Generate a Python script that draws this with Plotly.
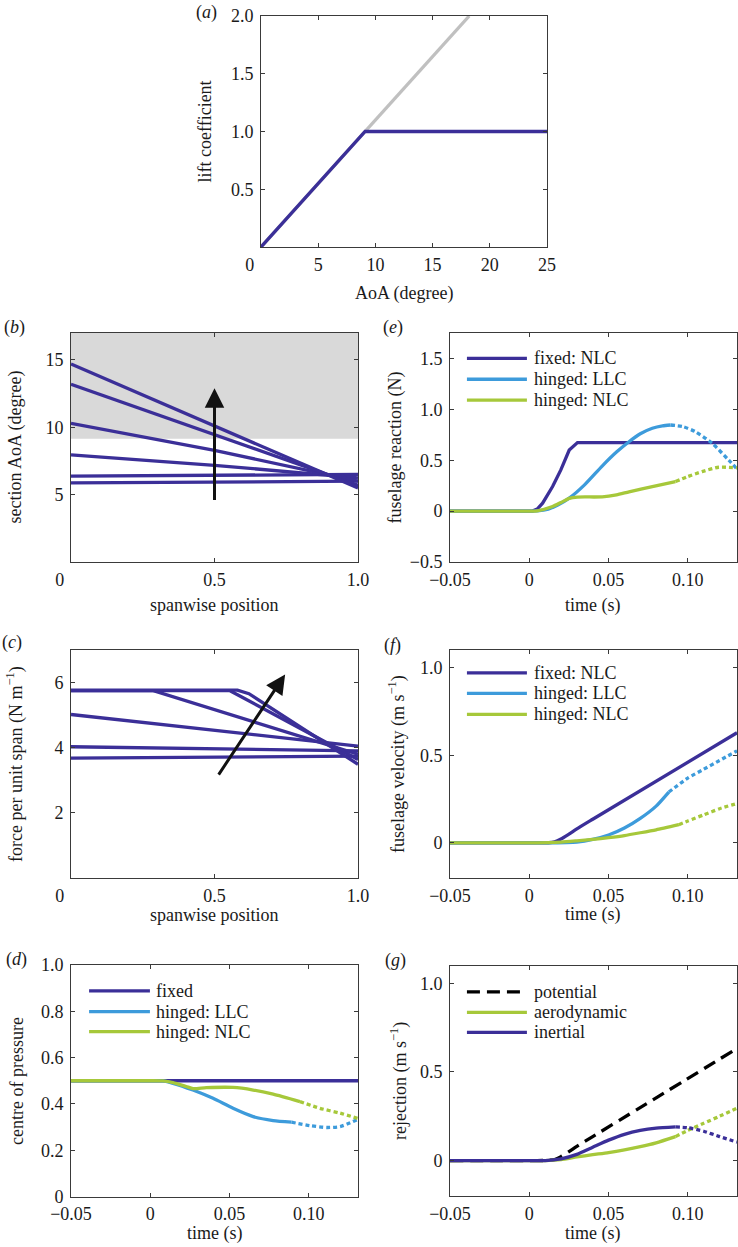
import plotly.graph_objects as go

# ---------------- data ----------------
# (a) lift curve
aoa_nlc = [0, 9.1, 25]
cl_nlc = [0, 1.0, 1.0]
aoa_lin = [0, 18.2]
cl_lin = [0, 2.0]

# (b) section AoA along span
span_pos = [0, 0.5, 1.0]
section_aoa = [
    [5.87, 5.92, 6.0],
    [6.38, 6.42, 6.5],
    [7.95, 7.18, 6.25],
    [10.3, 8.29, 6.0],
    [13.2, 9.45, 5.7],
    [14.7, 10.1, 5.5],
]
stall_aoa = 9.15
arrow_b_tail = [0.5, 4.5]
arrow_b_tip = [0.5, 12.9]

# (c) force per unit span
force_x = [
    [0, 1.0],
    [0, 1.0],
    [0, 1.0],
    [0, 0.287, 1.0],
    [0, 0.554, 1.0],
    [0, 0.58, 0.62, 1.0],
]
force_y = [
    [3.68, 3.74],
    [4.03, 3.9],
    [5.02, 4.05],
    [5.75, 5.75, 3.8],
    [5.75, 5.75, 3.64],
    [5.77, 5.77, 5.66, 3.49],
]
arrow_c_tail = [0.511, 3.13]
arrow_c_tip = [0.746, 6.25]

# (d) centre of pressure
cop_fixed_t = [-0.05, 0.131]
cop_fixed = [0.5, 0.5]
cop_llc_t = [-0.05, -0.02, 0.0, 0.008, 0.0143, 0.0269, 0.0396, 0.0522, 0.0649, 0.0775, 0.0891]
cop_llc = [0.5, 0.5, 0.5, 0.499, 0.489, 0.46, 0.424, 0.381, 0.345, 0.328, 0.321]
cop_llc_dot_t = [0.0891, 0.1007, 0.1113, 0.1197, 0.131]
cop_llc_dot = [0.321, 0.306, 0.298, 0.302, 0.333]
cop_nlc_t = [-0.05, -0.02, 0.0, 0.008, 0.0143, 0.0227, 0.027, 0.0354, 0.0522, 0.0649, 0.0775, 0.0944]
cop_nlc = [0.5, 0.5, 0.5, 0.499, 0.492, 0.475, 0.466, 0.47, 0.471, 0.46, 0.442, 0.41]
cop_nlc_dot_t = [0.0944, 0.107, 0.1197, 0.131]
cop_nlc_dot = [0.41, 0.381, 0.36, 0.337]

# (e) fuselage reaction
rea_fixed_t = [-0.05, 0.002, 0.005, 0.0084, 0.0147, 0.0199, 0.0252, 0.0304, 0.131]
rea_fixed = [0, 0, 0.02, 0.078, 0.241, 0.405, 0.6, 0.673, 0.673]
rea_llc_t = [-0.05, -0.02, 0.0, 0.005, 0.012, 0.018, 0.0252, 0.035, 0.0461, 0.055, 0.0629, 0.07, 0.0776, 0.084, 0.0891]
rea_llc = [0, 0, 0, 0.002, 0.02, 0.06, 0.127, 0.26, 0.445, 0.58, 0.682, 0.76, 0.814, 0.838, 0.846]
rea_llc_dot_t = [0.0891, 0.097, 0.1048, 0.1153, 0.1258, 0.131]
rea_llc_dot = [0.846, 0.83, 0.78, 0.667, 0.5, 0.415]
rea_nlc_t = [-0.05, -0.02, 0.0, 0.005, 0.0147, 0.02, 0.0252, 0.0304, 0.046, 0.055, 0.0629, 0.0776, 0.0922]
rea_nlc = [0, 0, 0, 0.003, 0.045, 0.085, 0.125, 0.138, 0.14, 0.16, 0.19, 0.241, 0.29]
rea_nlc_dot_t = [0.0922, 0.1, 0.109, 0.1195, 0.131]
rea_nlc_dot = [0.29, 0.34, 0.388, 0.431, 0.425]

# (f) fuselage velocity
vel_fixed_t = [-0.05, -0.02, 0.005, 0.012, 0.016, 0.02, 0.025, 0.03, 0.04, 0.131]
vel_fixed = [0, 0, 0, 0.001, 0.006, 0.022, 0.05, 0.08, 0.135, 0.628]
vel_llc_t = [-0.05, -0.02, 0.01, 0.03, 0.04, 0.05, 0.06, 0.07, 0.08, 0.088]
vel_llc = [0, 0, 0, 0.005, 0.02, 0.045, 0.085, 0.14, 0.21, 0.29]
vel_llc_dot_t = [0.088, 0.1, 0.11, 0.12, 0.131]
vel_llc_dot = [0.29, 0.37, 0.42, 0.47, 0.525]
vel_nlc_t = [-0.05, -0.02, 0.005, 0.02, 0.03, 0.04, 0.05, 0.06, 0.07, 0.08, 0.0943]
vel_nlc = [0, 0, 0, 0.005, 0.012, 0.02, 0.03, 0.042, 0.058, 0.075, 0.104]
vel_nlc_dot_t = [0.0943, 0.1, 0.11, 0.12, 0.131]
vel_nlc_dot = [0.104, 0.125, 0.16, 0.195, 0.225]

# (g) rejection
rej_pot_t = [-0.05, -0.02, 0.005, 0.012, 0.016, 0.02, 0.025, 0.03, 0.04, 0.131]
rej_pot = [0, 0, 0, 0.001, 0.006, 0.022, 0.05, 0.08, 0.135, 0.632]
rej_aero_t = [-0.05, -0.02, 0.01, 0.02, 0.03, 0.04, 0.05, 0.06, 0.07, 0.08, 0.0922]
rej_aero = [0, 0, 0, 0.005, 0.02, 0.033, 0.045, 0.06, 0.078, 0.1, 0.135]
rej_aero_dot_t = [0.0922, 0.1, 0.11, 0.12, 0.131]
rej_aero_dot = [0.135, 0.17, 0.21, 0.25, 0.295]
rej_iner_t = [-0.05, -0.02, 0.01, 0.02, 0.03, 0.04, 0.05, 0.06, 0.07, 0.08, 0.0922]
rej_iner = [0, 0, 0, 0.01, 0.035, 0.075, 0.115, 0.148, 0.17, 0.183, 0.19]
rej_iner_dot_t = [0.0922, 0.1, 0.11, 0.12, 0.131]
rej_iner_dot = [0.19, 0.185, 0.165, 0.135, 0.104]

time_ticks = [-0.05, 0, 0.05, 0.10]
time_ticktext = ["\u22120.05", "0", "0.05", "0.10"]

# ---------------- style ----------------
W, H = 738, 1247
DARK = "#3b2f98"
LIGHT = "#3d9bdb"
GREEN = "#a6c83a"
GREY = "#c0c0c0"
FONT = "Liberation Serif, Times New Roman, Times, serif"
FS = 18
TXT = "#1a1a1a"
LW = 3.3
DOT = "4px,3px"


def dx(x0, x1):
    return [x0 / W, x1 / W]


def dy(top, bottom):
    return [1 - bottom / H, 1 - top / H]


fig = go.Figure()


def add(x, y, xa, ya, color, dash="solid", shape="linear"):
    fig.add_trace(go.Scatter(x=x, y=y, xaxis=xa, yaxis=ya, mode="lines",
                             line=dict(color=color, width=LW, dash=dash, shape=shape,
                                       smoothing=0.6),
                             showlegend=False, hoverinfo="skip"))


# (a)
add(aoa_lin, cl_lin, "x", "y", GREY)
add(aoa_nlc, cl_nlc, "x", "y", DARK)
# (b)
for s in section_aoa:
    add(span_pos, s, "x2", "y2", DARK)
# (c)
for fx, fy in zip(force_x, force_y):
    add(fx, fy, "x3", "y3", DARK)
# (d)
add(cop_fixed_t, cop_fixed, "x4", "y4", DARK)
add(cop_llc_t, cop_llc, "x4", "y4", LIGHT, shape="spline")
add(cop_llc_dot_t, cop_llc_dot, "x4", "y4", LIGHT, DOT, "spline")
add(cop_nlc_t, cop_nlc, "x4", "y4", GREEN, shape="spline")
add(cop_nlc_dot_t, cop_nlc_dot, "x4", "y4", GREEN, DOT, "spline")
# (e)
add(rea_fixed_t, rea_fixed, "x5", "y5", DARK)
add(rea_llc_t, rea_llc, "x5", "y5", LIGHT, shape="spline")
add(rea_llc_dot_t, rea_llc_dot, "x5", "y5", LIGHT, DOT, "spline")
add(rea_nlc_t, rea_nlc, "x5", "y5", GREEN, shape="spline")
add(rea_nlc_dot_t, rea_nlc_dot, "x5", "y5", GREEN, DOT, "spline")
# (f)
add(vel_fixed_t, vel_fixed, "x6", "y6", DARK, shape="spline")
add(vel_llc_t, vel_llc, "x6", "y6", LIGHT, shape="spline")
add(vel_llc_dot_t, vel_llc_dot, "x6", "y6", LIGHT, DOT, "spline")
add(vel_nlc_t, vel_nlc, "x6", "y6", GREEN, shape="spline")
add(vel_nlc_dot_t, vel_nlc_dot, "x6", "y6", GREEN, DOT, "spline")
# (g)
add(rej_pot_t, rej_pot, "x7", "y7", "#000000", "13px,7px", "spline")
add(rej_aero_t, rej_aero, "x7", "y7", GREEN, shape="spline")
add(rej_aero_dot_t, rej_aero_dot, "x7", "y7", GREEN, DOT, "spline")
add(rej_iner_t, rej_iner, "x7", "y7", DARK, shape="spline")
add(rej_iner_dot_t, rej_iner_dot, "x7", "y7", DARK, DOT, "spline")

axis_common = dict(showline=True, linecolor="#3a3a3a", linewidth=1, mirror="ticks",
                   ticks="inside", ticklen=4, tickwidth=1, tickcolor="#3a3a3a",
                   showgrid=False, zeroline=False, automargin=False,
                   tickfont=dict(family=FONT, size=FS, color=TXT))
ZERO = "0" + "\u00a0" * 5

layout_axes = {
    "xaxis": dict(domain=dx(261, 547), range=[0, 25], anchor="y",
                  tickvals=[0, 5, 10, 15, 20, 25], ticktext=[ZERO, "5", "10", "15", "20", "25"]),
    "yaxis": dict(domain=dy(16, 247), range=[0, 2], anchor="x",
                  tickvals=[0.5, 1.0, 1.5, 2.0], ticktext=["0.5", "1.0", "1.5", "2.0"]),
    "xaxis2": dict(domain=dx(71, 358), range=[0, 1], anchor="y2",
                   tickvals=[0, 0.5, 1.0], ticktext=[ZERO, "0.5", "1.0"]),
    "yaxis2": dict(domain=dy(333, 562), range=[0, 17], anchor="x2",
                   tickvals=[5, 10, 15], ticktext=["5", "10", "15"]),
    "xaxis3": dict(domain=dx(71, 358), range=[0, 1], anchor="y3",
                   tickvals=[0, 0.5, 1.0], ticktext=[ZERO, "0.5", "1.0"]),
    "yaxis3": dict(domain=dy(650, 878), range=[0, 7], anchor="x3",
                   tickvals=[2, 4, 6], ticktext=["2", "4", "6"]),
    "xaxis4": dict(domain=dx(71, 358), range=[-0.05, 0.131], anchor="y4",
                   tickvals=time_ticks, ticktext=time_ticktext),
    "yaxis4": dict(domain=dy(965, 1196.5), range=[0, 1], anchor="x4",
                   tickvals=[0, 0.2, 0.4, 0.6, 0.8, 1.0],
                   ticktext=["0", "0.2", "0.4", "0.6", "0.8", "1.0"]),
    "xaxis5": dict(domain=dx(450, 737), range=[-0.05, 0.131], anchor="y5",
                   tickvals=time_ticks, ticktext=time_ticktext),
    "yaxis5": dict(domain=dy(333, 562), range=[-0.5, 1.75], anchor="x5",
                   tickvals=[-0.5, 0, 0.5, 1.0, 1.5],
                   ticktext=["\u22120.5", "0", "0.5", "1.0", "1.5"]),
    "xaxis6": dict(domain=dx(450, 737), range=[-0.05, 0.131], anchor="y6",
                   tickvals=time_ticks, ticktext=time_ticktext),
    "yaxis6": dict(domain=dy(650, 878), range=[-0.2, 1.1], anchor="x6",
                   tickvals=[0, 0.5, 1.0], ticktext=["0", "0.5", "1.0"]),
    "xaxis7": dict(domain=dx(450, 737), range=[-0.05, 0.131], anchor="y7",
                   tickvals=time_ticks, ticktext=time_ticktext),
    "yaxis7": dict(domain=dy(965.5, 1196), range=[-0.2, 1.1], anchor="x7",
                   tickvals=[0, 0.5, 1.0], ticktext=["0", "0.5", "1.0"]),
}
for k, v in layout_axes.items():
    d = dict(axis_common)
    d.update(v)
    if k.startswith("x"):
        d["ticklabelstandoff"] = 1
    else:
        d["ticklabelstandoff"] = 3
    layout_axes[k] = d

fig.update_layout(template="none", width=W, height=H, autosize=False,
                  margin=dict(l=0, r=0, t=0, b=0, pad=0),
                  paper_bgcolor="white", plot_bgcolor="white", showlegend=False,
                  font=dict(family=FONT, size=FS, color=TXT),
                  **layout_axes)

# stall region in (b)
fig.add_shape(type="rect", xref="x2 domain", yref="y2", x0=0, x1=1, y0=stall_aoa, y1=17,
              fillcolor="#d9d9d9", line=dict(width=0), layer="below")

annos = []


def text(px, py, s, angle=0, xanchor="center", size=FS):
    annos.append(dict(x=px / W, y=1 - py / H, xref="paper", yref="paper", text=s,
                      showarrow=False, textangle=angle, xanchor=xanchor, yanchor="middle",
                      font=dict(family=FONT, size=size, color=TXT)))


# panel letters
text(206, 12, "(<i>a</i>)")
text(14, 327, "(<i>b</i>)")
text(393, 327, "(<i>e</i>)")
text(12, 642, "(<i>c</i>)")
text(393, 645, "(<i>f</i>)")
text(16, 959, "(<i>d</i>)")
text(395, 960, "(<i>g</i>)")

# axis titles
text(404, 293, "AoA (degree)")
text(205, 131.5, "lift coefficient", -90)
text(214.5, 605, "spanwise position")
text(15, 447.5, "section AoA (degree)", -90)
text(214.5, 915, "spanwise position")
text(15, 764, "force per unit span (N m<sup>\u22121</sup>)", -90)
text(214.5, 1233, "time (s)")
text(17, 1081, "centre of pressure", -90)
text(593, 605, "time (s)")
text(395, 447.5, "fuselage reaction (N)", -90)
text(593, 915, "time (s)")
text(397, 764, "fuselage velocity (m s<sup>\u22121</sup>)", -90)
text(593, 1233, "time (s)")
text(399, 1081, "rejection (m s<sup>\u22121</sup>)", -90)

# arrows
annos.append(dict(x=arrow_b_tip[0], y=arrow_b_tip[1], ax=arrow_b_tail[0], ay=arrow_b_tail[1],
                  xref="x2", yref="y2", axref="x2", ayref="y2", text="", showarrow=True,
                  arrowhead=2, arrowsize=1.3, arrowwidth=3, arrowcolor="#111111"))
annos.append(dict(x=arrow_c_tip[0], y=arrow_c_tip[1], ax=arrow_c_tail[0], ay=arrow_c_tail[1],
                  xref="x3", yref="y3", axref="x3", ayref="y3", text="", showarrow=True,
                  arrowhead=2, arrowsize=1.3, arrowwidth=3, arrowcolor="#111111"))


# legends (manual)
def legend(ax_id, x0, x1, xt, rows, entries):
    for yv, (label, color, dash) in zip(rows, entries):
        fig.add_shape(type="line", xref=f"x{ax_id} domain", yref=f"y{ax_id} domain",
                      x0=x0, x1=x1, y0=yv, y1=yv,
                      line=dict(color=color, width=LW, dash=dash))
        annos.append(dict(x=xt, y=yv, xref=f"x{ax_id} domain", yref=f"y{ax_id} domain",
                          text=label, showarrow=False, xanchor="left", yanchor="middle",
                          font=dict(family=FONT, size=FS, color=TXT)))


legend(4, 0.063, 0.275, 0.29, [0.888, 0.799, 0.712],
       [("fixed", DARK, "solid"), ("hinged: LLC", LIGHT, "solid"), ("hinged: NLC", GREEN, "solid")])
legend(5, 0.059, 0.268, 0.285, [0.889, 0.798, 0.707],
       [("fixed: NLC", DARK, "solid"), ("hinged: LLC", LIGHT, "solid"), ("hinged: NLC", GREEN, "solid")])
legend(6, 0.059, 0.268, 0.285, [0.9, 0.81, 0.718],
       [("fixed: NLC", DARK, "solid"), ("hinged: LLC", LIGHT, "solid"), ("hinged: NLC", GREEN, "solid")])
legend(7, 0.059, 0.268, 0.285, [0.886, 0.797, 0.71],
       [("potential", "#000000", "13px,7px"), ("aerodynamic", GREEN, "solid"), ("inertial", DARK, "solid")])

fig.update_layout(annotations=annos)
fig.write_html("out.html", config={"displayModeBar": False, "staticPlot": True},
               post_script="document.body.style.margin='0';document.body.style.overflow='hidden';")
